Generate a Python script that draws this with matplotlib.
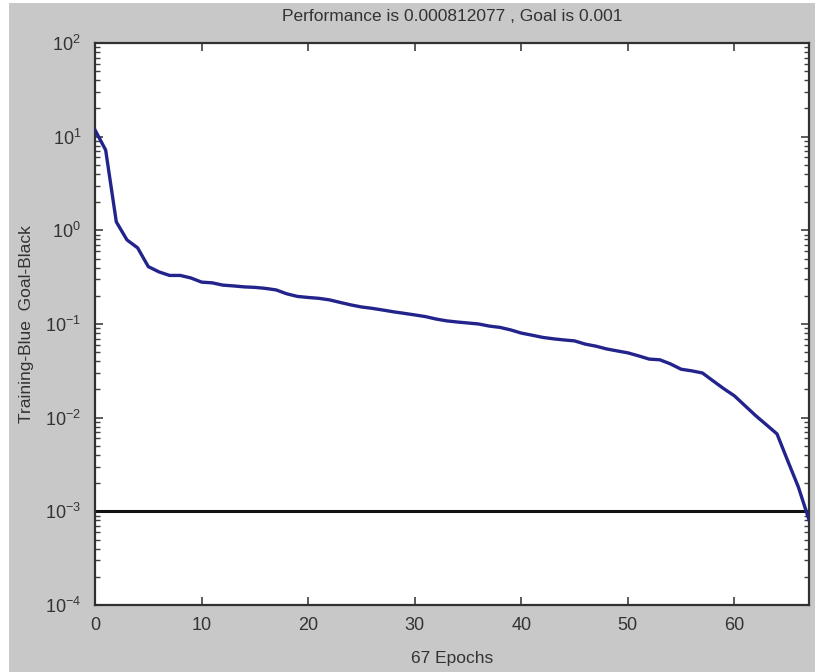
import numpy as np
import matplotlib.pyplot as plt
from matplotlib.patches import Rectangle
from matplotlib.ticker import LogLocator, NullFormatter

plt.rcParams['font.family'] = ['Liberation Sans', 'DejaVu Sans']
plt.rcParams['mathtext.fontset'] = 'custom'
plt.rcParams['mathtext.rm'] = 'Liberation Sans'
plt.rcParams['mathtext.it'] = 'Liberation Sans'

# training performance per epoch
epochs = np.arange(0, 68)
perf = [11.8, 7.2, 1.23, 0.79, 0.65, 0.41, 0.36, 0.33, 0.33, 0.31,
        0.28, 0.275, 0.26, 0.255, 0.249, 0.246, 0.240, 0.231, 0.21, 0.197,
        0.192, 0.188, 0.181, 0.170, 0.160, 0.152, 0.147, 0.141, 0.135, 0.130,
        0.125, 0.120, 0.113, 0.108, 0.105, 0.1025, 0.100, 0.095, 0.092, 0.0865,
        0.080, 0.076, 0.072, 0.0695, 0.0676, 0.066, 0.061, 0.058, 0.0542, 0.0516,
        0.0492, 0.0457, 0.0422, 0.0415, 0.0375, 0.0329, 0.0316, 0.030, 0.0247, 0.0204,
        0.0171, 0.0134, 0.0105, 0.0084, 0.0067, 0.00347, 0.00182, 0.000812077]
goal = 0.001
xticks = [0, 10, 20, 30, 40, 50, 60]

fig = plt.figure(figsize=(8.15, 6.72), dpi=100)
fig.patch.set_facecolor('white')
fig.patches.append(Rectangle((9 / 815, 0), 1, 1 - 3 / 672, transform=fig.transFigure,
                             facecolor='#c8c8c8', edgecolor='none', zorder=-10))

ax = fig.add_axes([95 / 815, 67 / 672, 714 / 815, 562 / 672])
ax.set_facecolor('white')

ax.semilogy(epochs, perf, color='#23238c', linewidth=2.4, zorder=3)
ax.axhline(goal, color='#111111', linewidth=2.2, zorder=2)

ax.set_xlim(0, 67)
ax.set_ylim(1e-4, 1e2)
ax.set_xticks(xticks)
ax.yaxis.set_major_locator(LogLocator(base=10, numticks=10))
ax.yaxis.set_minor_locator(LogLocator(base=10, subs=np.arange(2, 10), numticks=100))
ax.yaxis.set_minor_formatter(NullFormatter())

for s in ax.spines.values():
    s.set_color('#303030')
    s.set_linewidth(1.6)

ax.tick_params(which='both', direction='in', top=True, right=True, colors='#404040',
               labelcolor='#333333', labelsize=13)
ax.tick_params(which='major', length=6, width=1.2)
ax.tick_params(which='minor', length=3.5, width=1.0)
ax.tick_params(axis='y', pad=10)
ax.tick_params(axis='x', pad=9)

ax.set_title('Performance is 0.000812077 , Goal is 0.001', fontsize=12.5,
             color='#333333', pad=16)
ax.set_xlabel('67 Epochs', fontsize=12.5, color='#333333', labelpad=12)
ax.set_ylabel('Training-Blue  Goal-Black', fontsize=12.5, color='#333333', labelpad=8)

fig.savefig('out.png', dpi=100, facecolor=fig.get_facecolor())
